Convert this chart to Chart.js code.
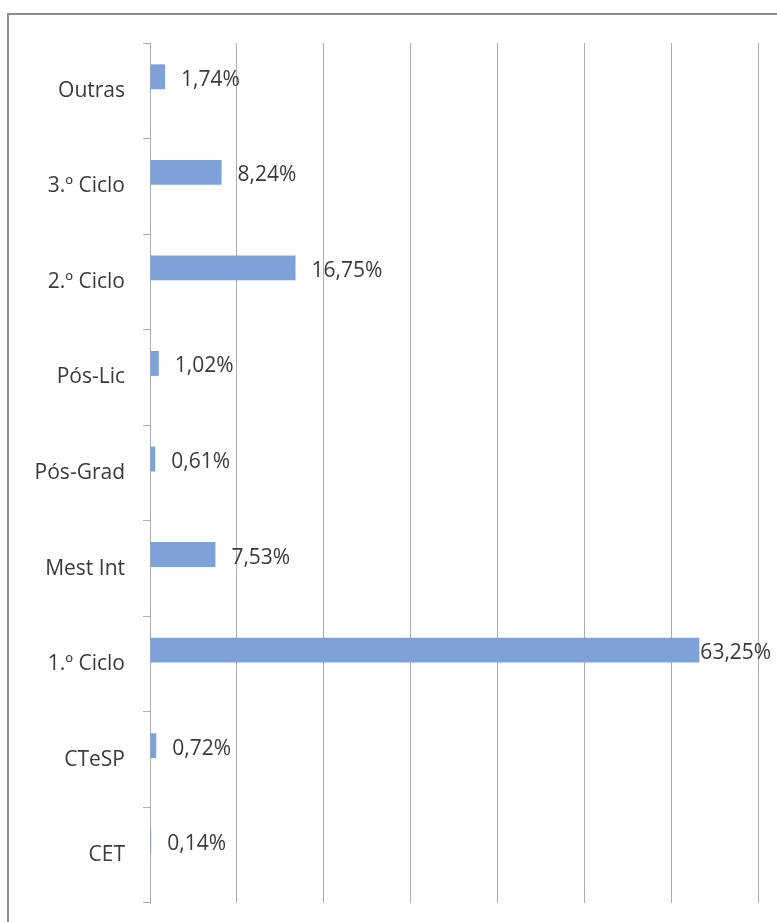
<!DOCTYPE html>
<html>
<head>
<meta charset="utf-8">
<script src="https://cdn.jsdelivr.net/npm/chart.js@4"></script>
<style>
    html, body { margin: 0; padding: 0; background: #fff; overflow: hidden; }
    #wrap { position: relative; width: 777px; height: 922px; }
    #frame {
        position: absolute; left: 7px; top: 13px; width: 800px; height: 950px;
        border: 2px solid #8e8e8e; box-sizing: border-box;
    }
    canvas { position: absolute; left: 0; top: 0; }
</style>
</head>
<body>
<div id="wrap">
    <div id="frame"></div>
    <canvas id="barChart" width="777" height="922"></canvas>
</div>
<script>
// top to bottom
const categories = ["Outras", "3.º Ciclo", "2.º Ciclo", "Pós-Lic", "Pós-Grad", "Mest Int", "1.º Ciclo", "CTeSP", "CET"];
const shares = [1.74, 8.24, 16.75, 1.02, 0.61, 7.53, 63.25, 0.72, 0.14];
const emptySeries = categories.map(() => null);
const xMax = 70;
const xStep = 10;

const textColor = "#3a3a3a";
const gridColor = "#a9acb3";
const labelFont = "21px 'Open Sans', sans-serif";

const formatShare = (value) => value.toFixed(2).replace(".", ",") + "%";

// draws the value labels next to each bar
const valueLabels = {
    id: "valueLabels",
    afterDatasetsDraw: (chart) => {
        const ctx = chart.ctx;
        const meta = chart.getDatasetMeta(0);
        ctx.save();
        ctx.font = labelFont;
        ctx.fillStyle = textColor;
        ctx.textBaseline = "middle";
        meta.data.forEach((bar, i) => {
            const text = formatShare(shares[i]);
            const w = ctx.measureText(text).width;
            let x = bar.x + 16;
            if (x + w > chart.width) {
                x = bar.x + 1; // not enough room, hug the bar
            }
            ctx.fillText(text, x, bar.y + 3);
        });
        ctx.restore();
    }
};

new Chart(document.getElementById("barChart"), {
    type: "bar",
    data: {
        labels: categories,
        datasets: [{
            data: shares,
            backgroundColor: "#7ea2d8",
            categoryPercentage: 0.586,
            barPercentage: 0.89
        }, {
            data: emptySeries,
            categoryPercentage: 0.586,
            barPercentage: 0.89
        }]
    },
    options: {
        indexAxis: "y",
        responsive: false,
        animation: false,
        layout: { padding: { left: 0, top: 43, right: 19, bottom: 19 } },
        plugins: {
            legend: { display: false },
            tooltip: { enabled: false }
        },
        scales: {
            x: {
                min: 0,
                max: xMax,
                ticks: { display: false, stepSize: xStep },
                grid: { color: gridColor, drawTicks: false, lineWidth: 1 },
                border: { display: false },
                afterFit: (scale) => { scale.height = 0; }
            },
            y: {
                offset: true,
                ticks: {
                    color: textColor,
                    font: { family: "'Open Sans', sans-serif", size: 21 },
                    padding: 18
                },
                grid: {
                    offset: true,
                    drawOnChartArea: false,
                    drawTicks: true,
                    tickLength: 7,
                    color: gridColor
                },
                border: { display: true, color: gridColor, width: 1 },
                afterFit: (scale) => {
                    scale.width = 150;
                    // labels sit mid-category, no extra room needed at the ends
                    scale.paddingTop = 0;
                    scale.paddingBottom = 0;
                }
            }
        }
    },
    plugins: [valueLabels]
});
</script>
</body>
</html>
